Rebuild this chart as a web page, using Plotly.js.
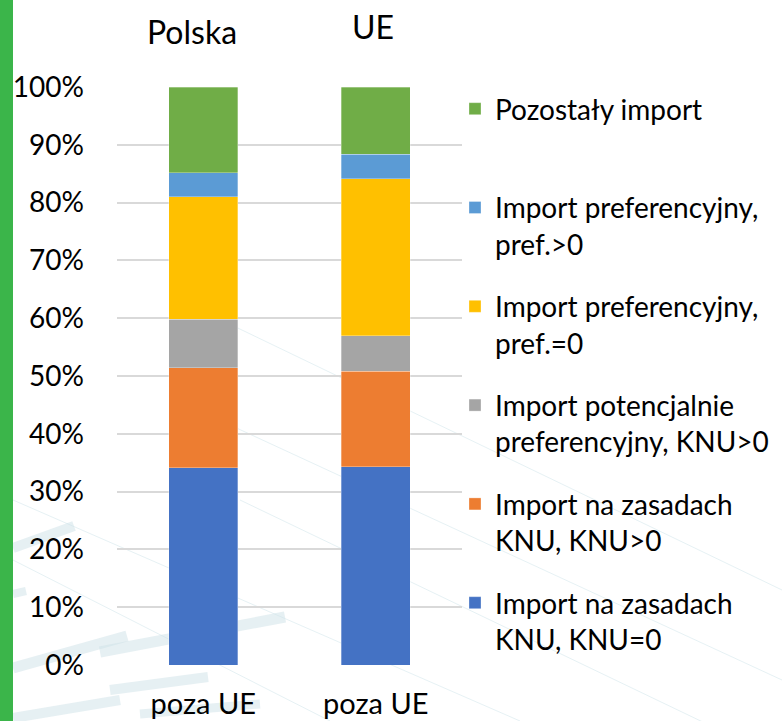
<!DOCTYPE html>
<html>
<head>
<meta charset="utf-8">
<script src="https://cdn.plot.ly/plotly-3.0.1.min.js"></script>
<style>
html,body{margin:0;padding:0;background:#fff;}
#chart{width:782px;height:721px;}
</style>
</head>
<body>
<div id="chart"></div>
<script>
// ---- data ----
const regions = ["Polska", "UE"];
const categoryLabels = ["poza UE", "poza UE"];
const seriesNames = [
  "Import na zasadach<br>KNU, KNU=0",
  "Import na zasadach<br>KNU, KNU>0",
  "Import potencjalnie<br>preferencyjny, KNU>0",
  "Import preferencyjny,<br>pref.=0",
  "Import preferencyjny,<br>pref.>0",
  "Pozostały import<br>&nbsp;"
];
const knu0      = [0.341, 0.343];
const knuPos    = [0.173, 0.165];
const potencj   = [0.084, 0.062];
const prefZero  = [0.212, 0.271];
const prefPos   = [0.042, 0.043];
const pozostaly = [0.148, 0.116];
const seriesValues = [knu0, knuPos, potencj, prefZero, prefPos, pozostaly];
const seriesColors = ["#4472C4", "#ED7D31", "#A5A5A5", "#FFC000", "#5B9BD5", "#70AD47"];

// ---- layout helpers ----
const W = 782, H = 721;
const L = 117, R = 462, T = 87, B = 665;
const px = x => (x - L) / (R - L);
const py = y => (B - y) / (B - T);
const FONT = "Lato, 'Open Sans', sans-serif";

const traces = seriesValues.map((vals, i) => ({
  type: "bar",
  x: regions,
  y: vals,
  name: seriesNames[i],
  legendgroup: "g" + i,
  legendrank: seriesValues.length - i,
  marker: { color: seriesColors[i], line: { color: "rgba(255,255,255,0.5)", width: 0.6 } },
  hoverinfo: "skip"
}));

// decorative watermark strokes
const deco = [];
const thin = [[190,305,782,590],[230,425,782,680],[13,500,520,721],[240,500,782,760],[13,560,330,721]];
thin.forEach(s => deco.push({type:"line", xref:"paper", yref:"paper", x0:px(s[0]), y0:py(s[1]), x1:px(s[2]), y1:py(s[3]), line:{color:"rgba(205,228,234,0.5)", width:1}, layer:"below"}));
const thick = [[13,548,74,526,10],[13,594,26,591,8],[13,668,127,636,11],[100,652,285,617,11],[110,690,208,677,10],[13,718,120,700,10],[140,714,260,704,9]];
thick.forEach(s => deco.push({type:"line", xref:"paper", yref:"paper", x0:px(s[0]), y0:py(s[1]), x1:px(s[2]), y1:py(s[3]), line:{color:"rgba(205,226,232,0.5)", width:s[4]}, layer:"below"}));
// green strip at left edge
deco.push({type:"rect", xref:"paper", yref:"paper", x0:px(0), x1:px(13), y0:py(H), y1:py(0), fillcolor:"#3BB54A", line:{width:0}, layer:"above"});

const layout = {
  width: W, height: H,
  margin: { l: L, r: W - R, t: T, b: H - B, pad: 0, autoexpand: false },
  paper_bgcolor: "#ffffff",
  plot_bgcolor: "rgba(0,0,0,0)",
  barmode: "stack",
  bargap: 0.6,
  font: { family: FONT, size: 28, color: "#000" },
  showlegend: true,
  legend: {
    x: px(455), xanchor: "left",
    y: py(84), yanchor: "top",
    traceorder: "grouped",
    tracegroupgap: 23,
    valign: "top",
    maxheight: 700,
    font: { family: FONT, size: 28, color: "#000" },
    bgcolor: "rgba(0,0,0,0)",
    borderwidth: 0
  },
  xaxis: {
    type: "category",
    tickvals: regions,
    ticktext: categoryLabels,
    showgrid: false,
    zeroline: false,
    showline: false,
    ticks: "",
    ticklabelstandoff: 19,
    tickfont: { family: FONT, size: 29, color: "#000" },
    fixedrange: true
  },
  yaxis: {
    range: [0, 1],
    dtick: 0.1,
    tick0: 0,
    tickformat: ".0%",
    showgrid: true,
    gridcolor: "#D9D9D9",
    gridwidth: 2,
    zeroline: false,
    showline: false,
    ticks: "",
    ticklabelstandoff: 32,
    tickfont: { family: FONT, size: 28, color: "#000" },
    fixedrange: true
  },
  annotations: [
    { x: regions[0], y: py(31), xref: "x", yref: "paper", text: regions[0], showarrow: false, xshift: -11, yanchor: "middle", font: { family: FONT, size: 32, color: "#000" } },
    { x: regions[1], y: py(27), xref: "x", yref: "paper", text: regions[1], showarrow: false, xshift: -3, yanchor: "middle", font: { family: FONT, size: 32, color: "#000" } }
  ],
  shapes: deco
};

Plotly.newPlot("chart", traces, layout, { displayModeBar: false, staticPlot: true });
</script>
</body>
</html>
